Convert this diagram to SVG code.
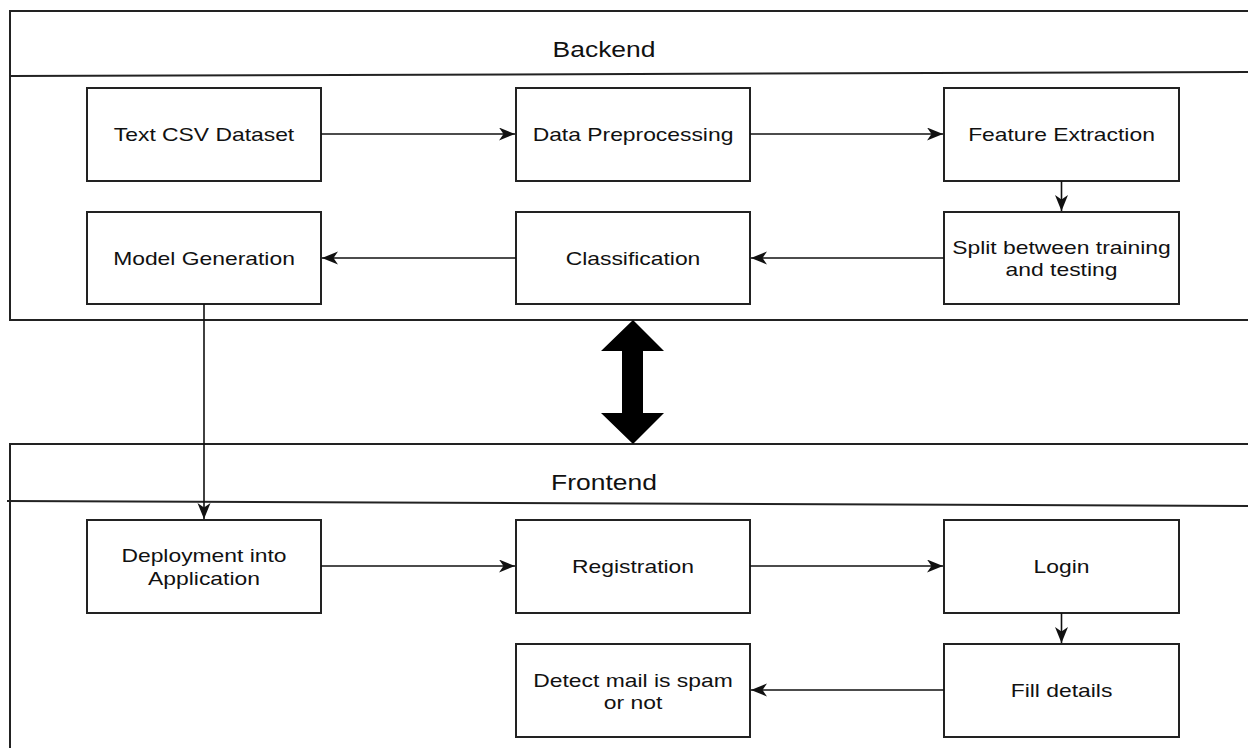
<svg xmlns="http://www.w3.org/2000/svg" width="1248" height="748" viewBox="0 0 1248 748">
<style>
.frame{fill:none;stroke:#222;stroke-width:2}
.box{fill:#fff;stroke:#222;stroke-width:2}
.edge{fill:none;stroke:#111;stroke-width:1.6}
.t{font-family:"Liberation Sans",Arial,sans-serif;font-size:18.6px;fill:#111;text-anchor:middle}
.h{font-family:"Liberation Sans",Arial,sans-serif;font-size:21.5px;fill:#111;text-anchor:middle}
</style>
<defs>
<marker id="arr" markerUnits="userSpaceOnUse" markerWidth="17" markerHeight="14" refX="16" refY="6.5" orient="auto">
<path d="M0,0 L16,6.5 L0,13 L4.5,6.5 Z" fill="#111"/>
</marker>
</defs>
<rect width="1248" height="748" fill="#fff"/>
<g id="backend">
<path class="frame" d="M1250,11 H10 V320 H1250"/>
<line class="frame" x1="10" y1="76" x2="1250" y2="72"/>
<text class="h" transform="translate(604,56.5) scale(1.23,1)">Backend</text>
</g>
<g id="frontend">
<path class="frame" d="M1250,444 H10 V750"/>
<line class="frame" x1="7" y1="501" x2="1250" y2="506"/>
<text class="h" transform="translate(604,489.5) scale(1.23,1)">Frontend</text>
</g>
<g id="link">
<polygon points="633,320 664,351 643,351 643,413 664,413 633,444 601,413 622,413 622,351 601,351" fill="#000"/>
</g>
<g id="n1"><rect class="box" x="87" y="88" width="234" height="93"/><text class="t" transform="translate(204,140.5) scale(1.23,1)">Text CSV Dataset</text></g>
<g id="n2"><rect class="box" x="516" y="88" width="234" height="93"/><text class="t" transform="translate(633,140.5) scale(1.23,1)">Data Preprocessing</text></g>
<g id="n3"><rect class="box" x="944" y="88" width="235" height="93"/><text class="t" transform="translate(1061.5,140.5) scale(1.23,1)">Feature Extraction</text></g>
<g id="n4"><rect class="box" x="944" y="212" width="235" height="92"/><text class="t" transform="translate(1061.5,253.5) scale(1.23,1)">Split between training</text><text class="t" transform="translate(1061.5,275.5) scale(1.23,1)">and testing</text></g>
<g id="n5"><rect class="box" x="516" y="212" width="234" height="92"/><text class="t" transform="translate(633,264.5) scale(1.23,1)">Classification</text></g>
<g id="n6"><rect class="box" x="87" y="212" width="234" height="92"/><text class="t" transform="translate(204,264.5) scale(1.23,1)">Model Generation</text></g>
<g id="n7"><rect class="box" x="87" y="520" width="234" height="93"/><text class="t" transform="translate(204,561.5) scale(1.23,1)">Deployment into</text><text class="t" transform="translate(204,584.5) scale(1.23,1)">Application</text></g>
<g id="n8"><rect class="box" x="516" y="520" width="234" height="93"/><text class="t" transform="translate(633,572.5) scale(1.23,1)">Registration</text></g>
<g id="n9"><rect class="box" x="944" y="520" width="235" height="93"/><text class="t" transform="translate(1061.5,572.5) scale(1.23,1)">Login</text></g>
<g id="n10"><rect class="box" x="944" y="644" width="235" height="93"/><text class="t" transform="translate(1061.5,696.5) scale(1.23,1)">Fill details</text></g>
<g id="n11"><rect class="box" x="516" y="644" width="234" height="93"/><text class="t" transform="translate(633,686.5) scale(1.23,1)">Detect mail is spam</text><text class="t" transform="translate(633,708.5) scale(1.23,1)">or not</text></g>
<g id="connectors">
<line class="edge" x1="321" y1="134" x2="515" y2="134" marker-end="url(#arr)"/>
<line class="edge" x1="750" y1="134" x2="943" y2="134" marker-end="url(#arr)"/>
<line class="edge" x1="1061.5" y1="181" x2="1061.5" y2="211" marker-end="url(#arr)"/>
<line class="edge" x1="944" y1="258" x2="751" y2="258" marker-end="url(#arr)"/>
<line class="edge" x1="516" y1="258" x2="322" y2="258" marker-end="url(#arr)"/>
<line class="edge" x1="204" y1="304" x2="204" y2="519" marker-end="url(#arr)"/>
<line class="edge" x1="321" y1="566" x2="515" y2="566" marker-end="url(#arr)"/>
<line class="edge" x1="750" y1="566" x2="943" y2="566" marker-end="url(#arr)"/>
<line class="edge" x1="1061.5" y1="613" x2="1061.5" y2="643" marker-end="url(#arr)"/>
<line class="edge" x1="944" y1="690" x2="751" y2="690" marker-end="url(#arr)"/>
</g>
</svg>
